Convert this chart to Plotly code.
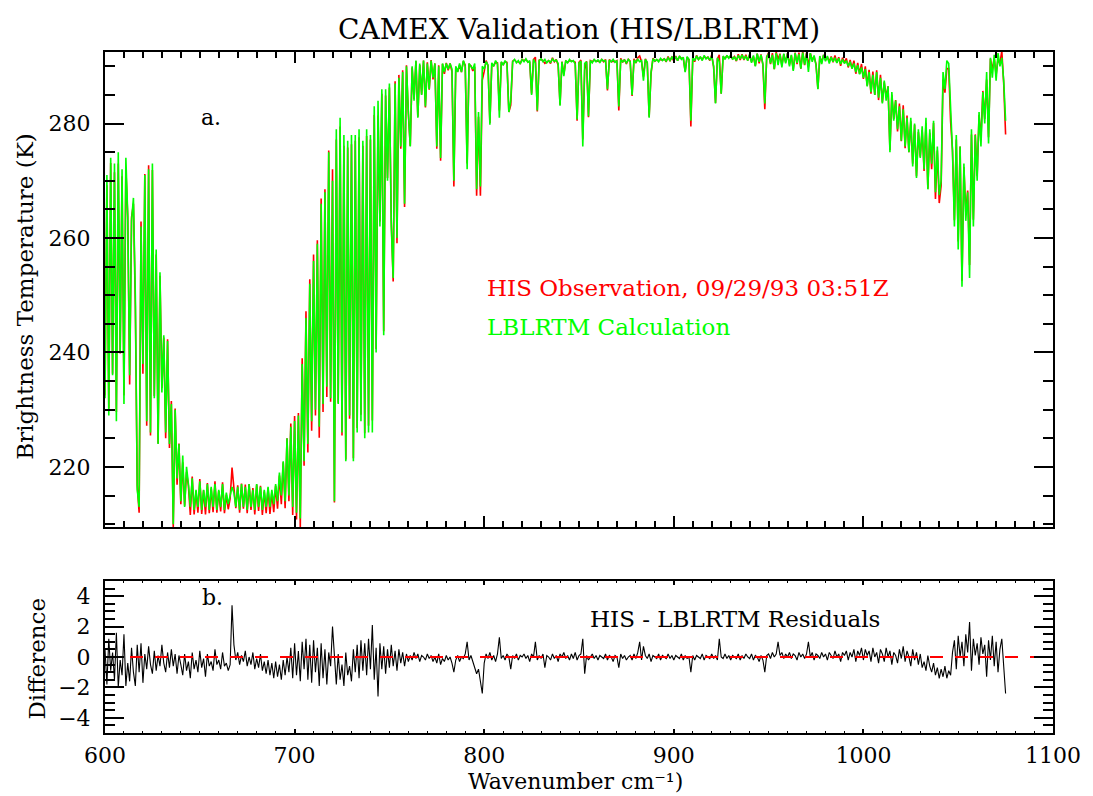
import plotly.graph_objects as go

# ---------------- data ----------------
WN_START = 600.0   # cm^-1, first sample
WN_STEP = 1.0      # cm^-1 sample spacing

# LBLRTM calculated brightness temperature (K), one value per cm^-1 from 600
lblrtm_calc = [
    232, 271, 229, 274, 236, 273, 228, 275, 240, 272,            # 600
    231, 274, 264, 236, 263, 267, 250, 216, 213, 262,            # 610
    238, 271, 228, 272, 226, 273, 232, 258, 224, 254,            # 620
    233, 243, 226, 242, 224, 231, 210, 230, 218, 224,            # 630
    214, 222, 213, 220, 217, 213, 218, 212.5, 216, 213,          # 640
    217.5, 212.5, 216, 213, 217, 212.5, 216.5, 213, 217, 212.5,  # 650
    216, 213, 217, 212.5, 215.5, 213.5, 215, 216.5, 215.5, 213,  # 660
    216.5, 212.5, 217, 213, 216.5, 212.5, 217, 213, 216, 212.5,  # 670
    217, 213, 216.5, 212.5, 216, 213, 216.5, 213, 216, 213.5,    # 680
    217, 214, 219, 215, 221, 214, 225, 215, 227, 213,            # 690
    228, 212, 229, 211, 238, 221, 246, 224, 252, 228,            # 700
    256, 230, 259, 227, 266, 231, 268, 234, 275, 232,            # 710
    270, 214, 279, 231, 281, 226, 278, 221, 277, 229,            # 720
    278, 221, 278, 226, 279, 228, 277, 225, 279, 226,            # 730
    278, 226, 283, 240, 284, 262, 286, 243, 286, 270,            # 740
    287, 262, 253, 287, 260, 288, 276, 289, 266, 290,            # 750
    282, 276, 290, 284, 291, 281, 290.5, 285, 291, 283,          # 760
    290.5, 286, 291, 288, 290.5, 276, 290, 274, 290.5, 289,      # 770
    290.5, 289.5, 290.5, 289.5, 270, 290, 289, 290.5, 289, 291,  # 780
    290, 272, 290.5, 290, 289.5, 290.5, 268.5, 282, 269, 290,    # 790
    289.5, 290.8, 290.2, 279.8, 290.6, 290.0, 291.0, 290.4, 281.0, 290.8,  # 800
    290.2, 291.0, 290.5, 282.0, 284.0, 290.8, 291.2, 290.6, 291.0, 290.4,  # 810
    291.2, 290.8, 291.3, 290.7, 291.0, 285.0, 291.2, 290.6, 282.3, 291.0,  # 820
    291.3, 290.8, 291.2, 290.6, 291.0, 290.7, 291.3, 290.9, 291.1, 290.5,  # 830
    283.1, 290.8, 288.3, 291.0, 290.6, 291.2, 290.8, 291.0, 290.4, 280.7,  # 840
    290.6, 290.9, 276.0, 290.5, 290.8, 281.3, 291.0, 290.6, 291.2, 290.8,  # 850
    291.1, 290.7, 291.2, 290.9, 291.0, 286.0, 291.1, 290.8, 291.2, 290.7,  # 860
    291.0, 283.0, 291.2, 290.8, 291.1, 290.6, 291.2, 290.8, 285.0, 291.1,  # 870
    290.7, 291.2, 290.8, 291.0, 287.5, 291.2, 290.7, 281.0, 289.0, 291.3,  # 880
    290.9, 291.2, 290.8, 291.4, 291.0, 291.3, 290.9, 291.5, 291.0, 291.6,  # 890
    291.1, 291.7, 291.0, 291.8, 291.2, 291.6, 289.0, 291.7, 291.2, 280.5,  # 900
    291.5, 291.0, 291.8, 291.2, 291.7, 291.0, 291.9, 291.3, 291.6, 291.1,  # 910
    291.8, 290.0, 283.5, 291.5, 290.8, 285.2, 291.8, 291.2, 291.9, 291.4,  # 920
    292.0, 291.2, 291.7, 291.0, 291.9, 291.3, 292.0, 291.2, 291.8, 291.0,  # 930
    292.1, 290.6, 291.9, 290.0, 292.2, 290.8, 292.0, 290.4, 283.5, 291.6,  # 940
    292.2, 290.5, 292.0, 289.5, 292.3, 290.2, 292.1, 289.8, 292.2, 290.5,  # 950
    292.3, 290.0, 292.0, 289.2, 292.3, 290.6, 292.1, 289.6, 292.4, 290.3,  # 960
    292.2, 289.0, 292.3, 290.8, 291.9, 290.2, 286.0, 291.8, 290.4, 292.0,  # 970
    290.9, 291.8, 290.5, 291.6, 290.8, 291.5, 290.6, 291.4, 290.4, 291.2,  # 980
    290.5, 291.0, 290.0, 290.8, 289.6, 290.5, 289.0, 290.2, 288.6, 289.8,  # 990
    288.0, 289.5, 286.5, 289.0, 285.5, 288.5, 285.0, 289.0, 284.5, 288.0,  # 1000
    283.5, 287.5, 284.0, 286.5, 275.0, 285.5, 280.5, 284.0, 279.0, 283.0,  # 1010
    277.0, 282.5, 276.0, 281.0, 275.0, 281.0, 272.5, 280.0, 270.5, 279.0,  # 1020
    274.0, 279.5, 272.0, 281.0, 268.5, 279.0, 273.0, 280.5, 268.0, 276.0,  # 1030
    267.5, 270.0, 289.0, 286.0, 291.0, 290.5, 281.5, 275.0, 262.0, 278.0,  # 1040
    258.0, 276.0, 251.5, 273.0, 263.0, 268.0, 253.0, 279.0, 262.0, 278.0,  # 1050
    270.0, 282.0, 276.0, 285.5, 280.0, 289.0, 276.5, 291.5, 288.0, 292.0,  # 1060
    287.5, 292.3, 290.0, 291.5, 287.5, 280.5,                              # 1070
]

# HIS - LBLRTM residuals (K), same sampling
residual = [
    0.5, -1.8, 1.2, -0.9, 0.3, -1.5, 1.6, -2.0, -0.2, -1.2,     # 600
    1.5, -1.9, -0.4, -1.6, 0.6, -1.0, -1.9, 0.8, -1.0, 0.9,     # 610
    -1.7, 0.2, -0.8, 0.7, -0.5, -1.1, 0.4, -0.9, 0.1, -0.6,     # 620
    0.8, -0.4, -1.0, 0.3, -0.7, 0.5, -0.6, 0.2, -1.1, 0.1,      # 630
    -0.5, -1.2, 0.2, -0.9, -0.3, -1.4, 0.3, -0.8, -0.2, -1.0,   # 640
    0.4, -0.7, -0.1, -1.3, 0.2, -0.6, -0.3, -0.9, 0.5, -0.5,    # 650
    -0.2, -0.8, 0.3, -0.6, -0.4, -0.9, -0.5, 3.4, 0.8, -0.2,    # 660
    0.3, -0.5, 0.1, -0.3, 0.4, -0.6, 0.0, -0.5, 0.3, -0.8,      # 670
    -0.1, -0.7, 0.2, -0.9, -0.3, -1.1, -0.2, -1.2, -0.4, -1.4,  # 680
    -0.3, -1.3, -0.5, -1.5, -0.2, -1.2, 0.0, -1.0, 0.6, -1.4,   # 690
    0.9, -1.2, 0.4, -1.6, 1.0, -0.8, 1.2, -1.5, 0.8, -1.7,      # 700
    1.1, -1.0, 0.6, -1.9, 0.9, -1.4, 0.5, -1.8, 0.3, -0.6,      # 710
    2.0, -0.2, -1.8, 0.2, -1.5, -0.5, -1.9, 0.3, -1.2, -0.6,    # 720
    -1.6, 0.5, -1.0, 0.8, -1.4, 1.1, -0.9, 0.9, -1.2, 1.2,      # 730
    -0.8, 2.1, -1.5, 0.6, -2.6, 0.9, -0.8, 0.7, -1.1, 0.5,      # 740
    -0.7, 0.8, -0.6, 0.4, -0.9, 0.5, -0.4, 0.3, -0.6, 0.2,      # 750
    -0.3, 0.1, -0.2, 0.3, -0.1, 0.2, -0.3, 0.1, 0.0, -0.2,      # 760
    0.2, -0.1, 0.1, -0.3, 0.0, -0.4, 0.2, -0.5, -0.1, -0.3,     # 770
    0.1, -0.2, 0.0, -0.4, -1.0, -0.2, 0.1, -0.3, 0.0, -0.1,     # 780
    0.2, 1.0, -0.2, 0.1, -0.3, -0.6, -1.1, -0.8, -1.6, -2.4,    # 790
    -0.4, 0.2, -0.1, 0.3, -0.2, 0.1, -0.3, 0.2, 1.3, -0.1,      # 800
    0.1, -0.2, 0.2, 0.0, -0.8, 0.1, -0.1, 0.2, -0.2, 0.1,       # 810
    0.0, 0.2, -0.1, 0.1, -0.3, 0.2, 0.0, 1.0, -0.2, 0.1,        # 820
    -0.1, 0.2, -0.7, 0.1, 0.0, -0.2, 0.2, -0.1, 0.1, -0.3,      # 830
    0.2, 0.0, 0.3, -0.1, 0.1, -0.2, 0.2, -0.1, 0.3, -0.2,       # 840
    0.1, 0.2, 1.2, -1.1, 0.1, -0.2, 0.0, 0.2, -0.1, 0.1,        # 850
    -0.2, 0.1, 0.0, -0.1, 0.2, -0.2, 0.1, 0.0, -0.3, 0.1,       # 860
    0.0, -0.7, 0.2, -0.1, 0.1, -0.2, 0.0, 0.1, -0.2, 0.2,       # 870
    -0.1, 0.3, 1.0, -0.2, 0.7, 0.1, -0.1, 0.2, -0.3, 0.1,       # 880
    0.0, -0.1, 0.2, -0.2, 0.1, 0.0, -0.1, 0.2, -0.1, 0.1,       # 890
    -0.2, 0.1, 0.0, -0.1, 0.2, -0.2, 0.1, -0.1, 0.0, -1.0,      # 900
    0.1, -0.2, 0.1, 0.0, -0.1, 0.2, -0.2, 0.1, 0.0, -0.1,       # 910
    0.2, -0.1, 0.1, -0.2, 1.2, 0.0, -0.1, 0.2, -0.1, 0.1,       # 920
    -0.2, 0.1, 0.0, -0.1, 0.2, -0.2, 0.1, -0.1, 0.2, 0.0,       # 930
    -0.1, 0.2, -0.2, 0.1, 0.0, -0.3, 0.1, -0.2, -1.0, 0.1,      # 940
    0.2, -0.1, 0.3, 0.0, 0.2, 1.0, 0.1, 0.3, -0.1, 0.2,         # 950
    0.0, 0.3, -0.1, 0.2, 0.1, -0.2, 0.3, 0.0, 0.2, -0.1,        # 960
    0.2, 1.0, 0.0, 0.3, -0.2, 0.2, 0.1, -0.1, 0.3, 0.0,         # 970
    0.2, -0.2, 0.3, 0.1, -0.1, 0.4, 0.0, 0.2, -0.3, 0.3,        # 980
    0.1, 0.4, -0.2, 0.3, 0.0, 0.5, -0.3, 0.4, 0.1, 0.6,         # 990
    -0.2, 0.5, 0.1, 0.4, -0.3, 0.6, 0.0, 0.3, -0.4, 0.5,        # 1000
    0.2, -0.3, 0.6, 0.0, 0.4, -0.5, 0.3, 0.1, -0.4, 0.5,        # 1010
    -0.1, 0.7, -0.3, 0.4, 0.0, -0.6, 0.5, -0.2, 0.3, -0.5,      # 1020
    0.2, -0.7, -0.3, -0.9, 0.1, -0.6, -1.0, -0.4, -1.2, -0.7,   # 1030
    -1.4, -0.8, -1.3, -0.6, -1.4, -0.9, -1.2, 0.3, 1.1, -0.8,   # 1040
    1.4, 0.0, 1.0, -0.6, 1.5, 0.3, 2.3, -0.9, 1.2, 0.1,         # 1050
    0.9, -0.5, 1.3, 0.2, 0.8, -1.3, 1.1, -0.2, 1.4, -0.6,       # 1060
    1.0, -1.0, 0.5, 1.2, -0.5, -2.4,                            # 1070
]

zero_x = [600, 1100]
zero_y = [0, 0]

x_ticks_range = [600, 1100]
t_range = [209.5, 292.5]
d_range = [-5, 5]

# ---------------- derived series ----------------
n = min(len(lblrtm_calc), len(residual))
wavenumber = [WN_START + WN_STEP * i for i in range(n)]
calc = lblrtm_calc[:n]
resid = residual[:n]
his_obs = [c + r for c, r in zip(calc, resid)]

# ---------------- layout geometry ----------------
W, H = 1093, 796
L, R, T, B = 105, 32, 52, 63
PW, PH = W - L - R, H - T - B


def px(xp):
    return (xp - L) / PW


def py(yp):
    return (H - B - yp) / PH


FONT = "DejaVu Serif"
RED = "#ff0000"
GREEN = "#00ff00"

fig = go.Figure()
fig.add_trace(go.Scatter(x=wavenumber, y=his_obs, mode="lines",
                         line=dict(color=RED, width=1.6), xaxis="x", yaxis="y",
                         hoverinfo="skip"))
fig.add_trace(go.Scatter(x=wavenumber, y=calc, mode="lines",
                         line=dict(color=GREEN, width=1.6), xaxis="x", yaxis="y",
                         hoverinfo="skip"))
fig.add_trace(go.Scatter(x=wavenumber, y=resid, mode="lines",
                         line=dict(color="black", width=1.1), xaxis="x2", yaxis="y2",
                         hoverinfo="skip"))
fig.add_trace(go.Scatter(x=zero_x, y=zero_y, mode="lines",
                         line=dict(color=RED, width=2, dash="13px,12px"),
                         xaxis="x2", yaxis="y2", hoverinfo="skip"))

common = dict(showline=True, linecolor="black", linewidth=2, mirror="ticks",
              ticks="inside", tickcolor="black", tickwidth=2, showgrid=False,
              zeroline=False, tickfont=dict(family=FONT, size=22, color="black"))

fig.update_layout(
    width=W, height=H, showlegend=False,
    paper_bgcolor="white", plot_bgcolor="white",
    margin=dict(l=L, r=R, t=T, b=B),
    xaxis=dict(common, domain=[0, 1], anchor="y", range=x_ticks_range,
               tick0=0, dtick=100, ticklen=11, showticklabels=False,
               minor=dict(ticks="inside", dtick=10, ticklen=6, tickwidth=1.5,
                          tickcolor="black", showgrid=False)),
    yaxis=dict(common, domain=[py(527), 1], anchor="x", range=t_range,
               tick0=0, dtick=20, ticklen=19, ticklabelstandoff=8,
               minor=dict(ticks="inside", dtick=5, ticklen=10, tickwidth=1.5,
                          tickcolor="black", showgrid=False)),
    xaxis2=dict(common, domain=[0, 1], anchor="y2", range=x_ticks_range,
                tick0=0, dtick=100, ticklen=4, ticklabelstandoff=2,
                minor=dict(ticks="inside", dtick=10, ticklen=2, tickwidth=1,
                           tickcolor="black", showgrid=False)),
    yaxis2=dict(common, domain=[0, py(581)], anchor="x2", range=d_range,
                tick0=0, dtick=2, ticklen=19, ticklabelstandoff=8,
                minor=dict(ticks="inside", dtick=0.5, ticklen=10, tickwidth=1.5,
                           tickcolor="black", showgrid=False)),
)


def label(text, xp, yp, size=20, color="black", xanchor="center", angle=0):
    fig.add_annotation(text=text, x=px(xp), y=py(yp), xref="paper", yref="paper",
                       xanchor=xanchor, yanchor="middle", showarrow=False,
                       textangle=angle,
                       font=dict(family=FONT, size=size, color=color))


label("CAMEX Validation (HIS/LBLRTM)", 583, 30, size=28)
label("Brightness Temperature (K)", 24, 296, size=23, angle=-90)
label("Difference", 36, 659, size=23, angle=-90)
label("Wavenumber cm⁻¹)", 579, 782, size=22)
label("a.", 212, 118, size=22)
label("b.", 213, 597, size=22)
label("HIS Observation, 09/29/93 03:51Z", 488, 288, size=23, color=RED, xanchor="left")
label("LBLRTM Calculation", 488, 327, size=23, color=GREEN, xanchor="left")
label("HIS - LBLRTM Residuals", 740, 619, size=23)

fig.write_html("out.html")
